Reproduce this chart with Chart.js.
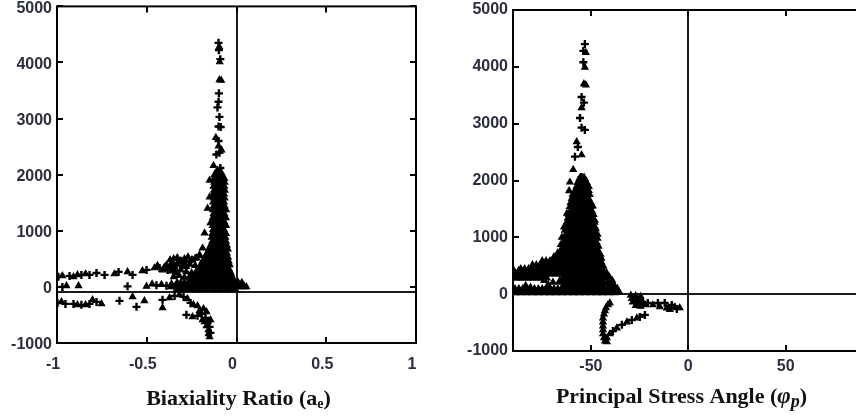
<!DOCTYPE html>
<html><head><meta charset="utf-8">
<script src="https://cdn.jsdelivr.net/npm/chart.js@4.4.0/dist/chart.umd.min.js"></script>
<style>
html,body{margin:0;padding:0;background:#fff;overflow:hidden;width:856px;height:416px;}
#c1{position:absolute;left:0;top:0;}
#c2{position:absolute;left:430px;top:0;}
</style></head><body>
<canvas id="c1" width="430" height="416"></canvas>
<canvas id="c2" width="440" height="416"></canvas>
<script>
// ---------- tick values and labels ----------
const yTicks = [-1000, 0, 1000, 2000, 3000, 4000, 5000];
const yLabels = ['-1000', '0', '1000', '2000', '3000', '4000', '5000'];
const c1XTicks = [-1, -0.5, 0, 0.5, 1];
const c1XLabels = ['-1', '-0.5', '0', '0.5', '1'];
const c2XTicks = [-50, 0, 50];
const c2XLabels = ['-50', '0', '50'];

// ---------- Chart 1 : Biaxiality ratio ----------
const c1DenseRows = [
 [2010,[-0.118,-0.100,-0.084]],
 [1940,[-0.122,-0.104,-0.087,-0.072]],
 [1870,[-0.120,-0.102,-0.085,-0.070]],
 [1800,[-0.124,-0.106,-0.089,-0.072]],
 [1730,[-0.121,-0.103,-0.086,-0.069]],
 [1660,[-0.125,-0.107,-0.090,-0.073]],
 [1590,[-0.122,-0.104,-0.087,-0.070]],
 [1520,[-0.126,-0.108,-0.091,-0.074]],
 [1450,[-0.123,-0.105,-0.088,-0.071]],
 [1380,[-0.127,-0.109,-0.092,-0.075,-0.062]],
 [1310,[-0.124,-0.106,-0.089,-0.072]],
 [1240,[-0.128,-0.110,-0.093,-0.076,-0.063]],
 [1170,[-0.125,-0.107,-0.090,-0.073]],
 [1100,[-0.129,-0.111,-0.094,-0.077,-0.062]],
 [1030,[-0.126,-0.108,-0.091,-0.074]],
 [960,[-0.130,-0.112,-0.095,-0.078,-0.063]],
 [890,[-0.134,-0.116,-0.099,-0.082,-0.066]],
 [820,[-0.131,-0.113,-0.096,-0.079,-0.063]],
 [750,[-0.140,-0.122,-0.105,-0.088,-0.071,-0.058]],
 [680,[-0.150,-0.132,-0.115,-0.098,-0.081,-0.065,-0.052]],
 [610,[-0.160,-0.142,-0.125,-0.108,-0.091,-0.075,-0.058]],
 [540,[-0.170,-0.152,-0.135,-0.118,-0.101,-0.085,-0.068,-0.052]],
 [470,[-0.185,-0.167,-0.150,-0.133,-0.116,-0.099,-0.082,-0.065,-0.048]],
 [400,[-0.195,-0.177,-0.160,-0.143,-0.126,-0.109,-0.092,-0.075,-0.058,-0.042]],
 [330,[-0.200,-0.183,-0.166,-0.149,-0.132,-0.115,-0.098,-0.081,-0.064,-0.047]],
 [260,[-0.205,-0.188,-0.171,-0.154,-0.137,-0.120,-0.103,-0.086,-0.069,-0.052,-0.036]],
 [190,[-0.215,-0.198,-0.181,-0.164,-0.147,-0.130,-0.113,-0.096,-0.079,-0.062,-0.045,-0.030]],
 [120,[-0.250,-0.232,-0.215,-0.198,-0.181,-0.164,-0.147,-0.130,-0.113,-0.096,-0.079,-0.062,-0.045,-0.028]],
 [60,[-0.330,-0.310,-0.290,-0.270,-0.250,-0.230,-0.210,-0.190,-0.170,-0.150,-0.130,-0.110,-0.090,-0.070,-0.050,-0.030,-0.010,0.010,0.030]],
 [10,[-0.360,-0.340,-0.320,-0.300,-0.280,-0.260,-0.240,-0.220,-0.200,-0.180,-0.160,-0.140,-0.120,-0.100,-0.080,-0.060,-0.040,-0.020,0.000,0.020,0.040]],
 [-40,[-0.330,-0.290,-0.250,-0.210,-0.170,-0.130,-0.090,-0.050,-0.010]]
];
const c1Cross = [
 [-0.100,4350],[-0.098,4220],[-0.090,4060],[-0.098,3450],[-0.100,3300],[-0.106,3200],[-0.095,3030],
 [-0.100,2860],[-0.088,2850],[-0.100,2600],[-0.095,2390],[-0.112,2360],[-0.090,2120],
 [-0.992,180],[-0.930,196],[-0.864,214],[-0.819,214],[-0.780,249],[-0.735,214],[-0.657,267],[-0.579,214],
 [-0.501,303],[-0.429,338],[-0.384,303],[-0.318,427],[-0.262,445],
 [-0.970,0],[-0.607,10],[-0.446,30],[-0.390,20],
 [-0.997,-285],[-0.953,-303],[-0.908,-303],[-0.864,-320],[-0.819,-303],[-0.780,-267],[-0.652,-249],
 [-0.557,-356],[-0.412,-231],[-0.345,-160],[-0.295,-178],[-0.256,-285],[-0.279,-498],[-0.217,-516],
 [-0.195,-480],[-0.173,-552],[-0.161,-641],[-0.150,-712],[-0.145,-819]
];
const c1Tri = [
 [-0.096,4280],[-0.094,4010],[-0.095,3690],[-0.085,3680],[-0.115,2660],[-0.100,2510],[-0.084,2440],
 [-0.128,2160],[-0.106,2080],[-0.085,2030],
 [-0.150,1600],[-0.145,1140],[-0.178,960],[-0.189,690],[-0.206,560],[-0.150,1900],[-0.161,1400],
 [-0.970,196],[-0.908,178],[-0.886,214],[-0.841,231],[-0.680,231],[-0.607,267],[-0.524,285],[-0.457,338],
 [-0.401,356],[-0.362,338],[-0.345,374],[-0.290,409],[-0.245,480],[-0.223,516],[-0.206,570],
 [-0.440,380],[-0.410,300],[-0.390,390],[-0.360,420],[-0.340,310],[-0.300,450],[-0.280,360],
 [-0.370,480],[-0.350,500],[-0.330,520],[-0.310,470],[-0.290,500],[-0.270,530],[-0.250,480],[-0.230,510],
 [-0.370,380],[-0.330,410],[-0.300,360],[-0.260,400],[-0.230,380],[-0.220,300],
 [-0.360,280],[-0.340,250],[-0.310,300],[-0.280,270],[-0.250,250],[-0.230,220],
 [-0.350,180],[-0.320,200],[-0.290,170],[-0.260,190],[-0.240,160],
 [-0.947,18],[-0.880,20],[-0.501,10],[-0.418,40],[-0.362,55],[-0.470,50],
 [-0.040,300],[-0.030,220],[-0.020,150],[-0.010,90],[0.005,60],[0.020,30],[0.040,10],[0.055,0],
 [-0.975,-267],[-0.886,-320],[-0.841,-320],[-0.802,-231],[-0.752,-303],[-0.579,-178],[-0.513,-249],
 [-0.412,-374],[-0.373,-196],[-0.318,-142],[-0.273,-214],[-0.240,-320],[-0.245,-534],[-0.206,-427],
 [-0.189,-587],[-0.178,-623],[-0.167,-694],[-0.156,-765],[-0.156,-837],[-0.150,-890],[-0.184,-392],
 [-0.217,-338],[-0.167,-445],[-0.145,-587]
];

// ---------- Chart 2 : Principal stress angle ----------
const c2DenseRows = [
 [2040,[-55.5,-53.5]],
 [1970,[-56.5,-54.5,-52.5]],
 [1900,[-57.0,-55.0,-53.0,-51.5]],
 [1830,[-57.5,-55.5,-53.5,-51.5]],
 [1760,[-59.0,-57.0,-55.0,-53.0,-51.0]],
 [1690,[-59.5,-57.5,-55.5,-53.5,-51.5]],
 [1620,[-60.0,-58.0,-56.0,-54.0,-52.0,-50.5]],
 [1550,[-60.5,-58.5,-56.5,-54.5,-52.5,-50.5]],
 [1480,[-60.0,-58.0,-56.0,-54.0,-52.0,-50.0]],
 [1410,[-61.0,-59.0,-57.0,-55.0,-53.0,-51.0,-49.0]],
 [1340,[-61.5,-59.5,-57.5,-55.5,-53.5,-51.5,-49.5]],
 [1270,[-62.0,-60.0,-58.0,-56.0,-54.0,-52.0,-50.0,-48.5]],
 [1200,[-62.5,-60.5,-58.5,-56.5,-54.5,-52.5,-50.5,-48.5]],
 [1130,[-63.0,-61.0,-59.0,-57.0,-55.0,-53.0,-51.0,-49.0]],
 [1060,[-62.5,-60.5,-58.5,-56.5,-54.5,-52.5,-50.5,-48.5,-47.0]],
 [990,[-63.0,-61.0,-59.0,-57.0,-55.0,-53.0,-51.0,-49.0,-47.0]],
 [920,[-63.5,-61.5,-59.5,-57.5,-55.5,-53.5,-51.5,-49.5,-47.5]],
 [850,[-64.0,-62.0,-60.0,-58.0,-56.0,-54.0,-52.0,-50.0,-48.0,-46.5]],
 [780,[-65.0,-63.0,-61.0,-59.0,-57.0,-55.0,-53.0,-51.0,-49.0,-47.0]],
 [710,[-67.0,-65.0,-63.0,-61.0,-59.0,-57.0,-55.0,-53.0,-51.0,-49.0,-47.0,-45.5]],
 [640,[-69.0,-67.0,-65.0,-63.0,-61.0,-59.0,-57.0,-55.0,-53.0,-51.0,-49.0,-47.0,-45.0]],
 [570,[-75,-73,-71,-69,-67,-65,-63,-61,-59,-57,-55,-53,-51,-49,-47,-45]],
 [500,[-80,-78,-76,-74,-72,-70,-68,-66,-64,-62,-60,-58,-56,-54,-52,-50,-48,-46,-44]],
 [430,[-86,-84,-82,-80,-78,-76,-74,-72,-70,-68,-66,-64,-62,-60,-58,-56,-54,-52,-50,-48,-46,-44]],
 [360,[-89,-87,-85,-83,-81,-79,-77,-75,-73,-71,-68,-66,-64,-62,-60,-58,-56,-54,-52,-50,-48,-46,-44,-42]],
 [290,[-89,-87,-85,-83,-81,-79,-77,-75,-73,-64,-62,-60,-58,-56,-54,-52,-50,-48,-46,-44,-42]],
 [220,[-66,-64,-62,-60,-58,-56,-54,-52,-50,-48,-46,-44,-41]],
 [150,[-64,-62,-60,-58,-56,-54,-52,-50,-48,-46,-44,-40]],
 [80,[-89,-87,-85,-83,-81,-79,-77,-75,-73,-71,-69,-67,-65,-63,-61,-59,-57,-55,-53,-51,-49,-47,-45,-43,-41,-39]],
 [30,[-89,-86,-83,-80,-77,-74,-71,-68,-65,-62,-59,-56,-53,-50,-47,-44,-41,-38]]
];
const c2Cross = [
 [-53.1,4400],[-53.9,4280],[-53.9,4080],[-54.8,3470],[-53.6,3370],[-55.6,3100],[-54.8,2930],
 [-53.1,2890],[-56.7,2590],[-58.2,2420],[-54.8,2060],
 [-20.8,-155],[-15.6,-155],[-12.1,-155],[-8.5,-190],[-5.9,-260],[-22.3,-365],[-24.9,-400],
 [-29.0,-455],[-34.1,-540],[-38.7,-650]
];
const c2Tri = [
 [-52.6,4250],[-53.1,3990],[-53.6,3700],[-52.6,3680],[-54.8,3280],[-57.3,2680],[-54.8,2450],
 [-59.1,2190],[-60.8,1970],[-61.2,1820],[-62.3,1420],[-63.8,1180],[-64.9,1000],[-65.5,870],
 [-49,1550],[-48,1300],[-47.5,1150],
 [-83.5,150],[-81,120],[-74,240],[-72,170],[-69.5,210],
 [-89.5,410],[-87,420],
 [-44,420],[-42,370],[-40.5,300],[-39,240],[-41,180],[-38,150],[-36.5,100],[-39.5,60],[-35.5,40],
 [-29.5,-20],[-27,-30],[-24.5,-40],[-29,-80],[-26.5,-90],[-24,-100],[-28.5,-140],[-26,-150],
 [-23.5,-160],[-27,-200],[-24.5,-215],[-22,-190],
 [-18.2,-190],[-14.6,-225],[-11.0,-245],[-6.9,-225],[-4.4,-240],[-9.5,-270],
 [-26.4,-420],[-31.5,-490],[-36.7,-595],[-40.3,-700],[-41.8,-770],
 [-40.3,-155],[-41.3,-190],[-42.3,-240],[-42.8,-295],[-43.3,-350],[-43.8,-420],[-43.8,-490],
 [-43.8,-560],[-43.8,-630],[-43.8,-700],[-43.3,-770],[-42.8,-825],[-41.8,-840]
];

// ---------- helpers ----------
const toPts = arr => arr.map(p => ({x: p[0], y: p[1]}));
const rowsToPts = rows => rows.flatMap(r => r[1].map(x => ({x: x, y: r[0]})));
const tickFont = {family: '"Liberation Sans", Arial, sans-serif', size: 16, weight: 'bold'};
const tickColor = '#2b2f3d';

function makeFrame(hLine, parts, cx, baseY) {
  return {
    id: 'frame',
    beforeDatasetsDraw(chart) {
      const {ctx, chartArea: a, scales: {x, y}} = chart;
      ctx.save();
      ctx.strokeStyle = '#1b1b1b'; ctx.lineWidth = 2;
      const zx = Math.round(x.getPixelForValue(0));
      const hy = Math.round(y.getPixelForValue(hLine));
      ctx.beginPath();
      ctx.moveTo(zx, a.top); ctx.lineTo(zx, a.bottom);
      ctx.moveTo(a.left, hy); ctx.lineTo(a.right, hy);
      ctx.stroke();
      ctx.restore();
    },
    afterDatasetsDraw(chart) {
      const {ctx, chartArea: a, scales: {x, y}} = chart;
      ctx.save();
      ctx.strokeStyle = '#000'; ctx.lineWidth = 2;
      ctx.strokeRect(a.left, a.top, a.right - a.left, a.bottom - a.top);
      ctx.beginPath();
      x.ticks.forEach(t => {
        const p = Math.round(x.getPixelForValue(t.value));
        ctx.moveTo(p, a.bottom); ctx.lineTo(p, a.bottom - 6);
        ctx.moveTo(p, a.top); ctx.lineTo(p, a.top + 6);
      });
      y.ticks.forEach(t => {
        const p = Math.round(y.getPixelForValue(t.value));
        ctx.moveTo(a.left, p); ctx.lineTo(a.left + 6, p);
        ctx.moveTo(a.right, p); ctx.lineTo(a.right - 6, p);
      });
      ctx.stroke();
      // rich x-axis title
      ctx.fillStyle = '#111';
      ctx.textAlign = 'left'; ctx.textBaseline = 'alphabetic';
      let w = 0;
      parts.forEach(p => { ctx.font = p.font; p.w = ctx.measureText(p.t).width; w += p.w; });
      let xx = cx - w / 2;
      parts.forEach(p => { ctx.font = p.font; ctx.fillText(p.t, xx, baseY + (p.dy || 0)); xx += p.w; });
      ctx.restore();
    }
  };
}

function buildChart(id, o) {
  return new Chart(document.getElementById(id), {
    type: 'scatter',
    data: {datasets: [
      {data: rowsToPts(o.dense), pointStyle: 'triangle', pointRadius: 4.2, backgroundColor: '#000', borderColor: '#000', borderWidth: 1.5},
      {data: toPts(o.tri), pointStyle: 'triangle', pointRadius: 3.6, backgroundColor: '#000', borderColor: '#000', borderWidth: 1.2},
      {data: toPts(o.cross), pointStyle: 'cross', pointRadius: 4, backgroundColor: '#000', borderColor: '#000', borderWidth: 2.4}
    ]},
    options: {
      responsive: false, animation: false, devicePixelRatio: 1, events: [],
      layout: {padding: {top: o.padTop, right: o.padRight, left: 0, bottom: 0}},
      plugins: {legend: {display: false}, tooltip: {enabled: false}},
      scales: {
        x: {
          type: 'linear', min: o.xMin, max: o.xMax,
          afterBuildTicks: s => { s.ticks = o.xTicks.map(v => ({value: v})); },
          afterFit: s => { s.height = o.xAxisH; s.paddingLeft = 0; s.paddingRight = 0; },
          grid: {display: false, drawTicks: false}, border: {display: false},
          ticks: {padding: o.xPad, labelOffset: o.xLabelOffset, font: tickFont, color: tickColor, maxRotation: 0, autoSkip: false,
                  callback: v => o.xLabels[o.xTicks.indexOf(v)]}
        },
        y: {
          type: 'linear', min: -1000, max: 5000,
          afterBuildTicks: s => { s.ticks = yTicks.map(v => ({value: v})); },
          afterFit: s => { s.width = o.yAxisW; s.paddingTop = 0; s.paddingBottom = 0; },
          grid: {display: false, drawTicks: false}, border: {display: false},
          ticks: {padding: 5, labelOffset: o.yLabelOffset, font: tickFont, color: tickColor, autoSkip: false,
                  callback: v => yLabels[yTicks.indexOf(v)]}
        }
      }
    },
    plugins: [makeFrame(o.hLine, o.title, o.titleX, o.titleY)]
  });
}

const serifB = '"Liberation Serif", "Times New Roman", serif';
buildChart('c1', {
  dense: c1DenseRows, tri: c1Tri, cross: c1Cross,
  xMin: -1, xMax: 1, xTicks: c1XTicks, xLabels: c1XLabels,
  padTop: 6, padRight: 14, xAxisH: 73, yAxisW: 57, xPad: 12, xLabelOffset: -4, yLabelOffset: 2,
  hLine: -90,
  title: [
    {t: 'Biaxiality Ratio (a', font: 'bold 22px ' + serifB},
    {t: 'e', font: 'bold 14px ' + serifB, dy: 3},
    {t: ')', font: 'bold 22px ' + serifB}
  ],
  titleX: 238.5, titleY: 405
});
buildChart('c2', {
  dense: c2DenseRows, tri: c2Tri, cross: c2Cross,
  xMin: -90, xMax: 90, xTicks: c2XTicks, xLabels: c2XLabels,
  padTop: 10, padRight: 6, xAxisH: 65, yAxisW: 83, xPad: 6, xLabelOffset: 0, yLabelOffset: 0,
  hLine: 0,
  title: [
    {t: 'Principal Stress Angle (', font: 'bold 22px ' + serifB},
    {t: 'φ', font: 'italic bold 23px ' + serifB},
    {t: 'p', font: 'italic bold 18px ' + serifB, dy: 4},
    {t: ')', font: 'bold 22px ' + serifB}
  ],
  titleX: 251.5, titleY: 403
});
</script></body></html>
